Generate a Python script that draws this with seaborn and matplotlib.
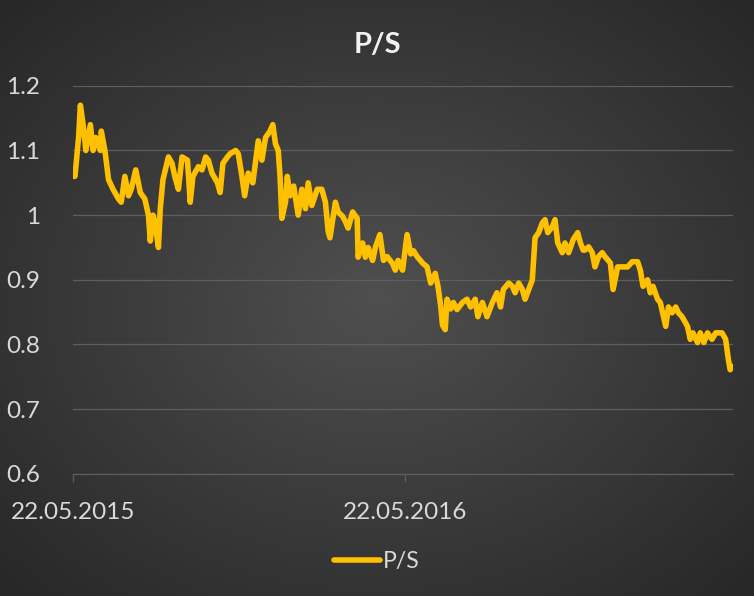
import numpy as np
import pandas as pd
import matplotlib
matplotlib.use("Agg")
import matplotlib.pyplot as plt
import matplotlib.dates as mdates
import seaborn as sns

# P/S series: days after 22.05.2015 and the ratio value
start_date = "2015-05-22"
day_offsets = [
    0, 2, 6, 8, 11, 14, 19, 22, 25, 30, 31, 35, 39, 44, 50, 53, 57, 61, 64, 69,
    74, 79, 83, 85, 88, 90, 94, 96, 99, 105, 109, 112, 116, 120, 126, 129, 132,
    138, 142, 146, 149, 153, 159, 162, 165, 170, 173, 179, 182, 186, 189, 193,
    198, 204, 208, 212, 217, 220, 223, 226, 228, 230, 234, 236, 239, 243, 248,
    252, 256, 259, 263, 269, 274, 278, 281, 283, 289, 292, 297, 300, 303, 308,
    313, 314, 319, 322, 325, 330, 333, 338, 342, 346, 352, 355, 358, 363, 368,
    372, 375, 379, 385, 390, 394, 399, 402, 405, 407, 410, 412, 416, 419, 423,
    429, 434, 438, 443, 446, 451, 456, 462, 467, 471, 474, 480, 484, 487, 491,
    495, 498, 502, 506, 509, 513, 517, 520, 523, 528, 531, 534, 539, 542, 546,
    551, 556, 559, 562, 564, 568, 572, 575, 579, 583, 586, 592, 595, 600, 605,
    611, 616, 622, 625, 628, 633, 636, 639, 644, 647, 653, 656, 660, 664, 667,
    671, 677, 680, 683, 688, 691, 695, 699, 704, 708, 711, 715, 719, 722, 724,
    726,
]
ps_values = [
    1.06, 1.06, 1.12, 1.17, 1.14, 1.10, 1.14, 1.10, 1.12, 1.10, 1.13, 1.10,
    1.055, 1.04, 1.025, 1.02, 1.06, 1.03, 1.04, 1.07, 1.035, 1.025, 1.00, 0.96,
    1.00, 0.99, 0.95, 1.01, 1.055, 1.09, 1.08, 1.06, 1.04, 1.09, 1.085, 1.02,
    1.06, 1.075, 1.07, 1.09, 1.085, 1.065, 1.05, 1.035, 1.08, 1.09, 1.095, 1.10,
    1.095, 1.06, 1.03, 1.065, 1.05, 1.115, 1.085, 1.12, 1.13, 1.14, 1.11, 1.10,
    1.06, 0.995, 1.02, 1.06, 1.03, 1.045, 1.00, 1.04, 1.01, 1.05, 1.015, 1.04,
    1.04, 1.02, 0.975, 0.965, 1.02, 1.005, 0.998, 0.99, 0.98, 1.005, 0.995,
    0.935, 0.957, 0.935, 0.95, 0.93, 0.95, 0.97, 0.93, 0.936, 0.925, 0.915,
    0.93, 0.915, 0.97, 0.94, 0.945, 0.936, 0.926, 0.92, 0.895, 0.91, 0.89,
    0.86, 0.83, 0.823, 0.87, 0.855, 0.865, 0.854, 0.865, 0.87, 0.858, 0.87,
    0.843, 0.865, 0.843, 0.865, 0.88, 0.858, 0.885, 0.895, 0.89, 0.88, 0.895,
    0.885, 0.87, 0.885, 0.90, 0.965, 0.973, 0.988, 0.993, 0.973, 0.982, 0.993,
    0.957, 0.942, 0.957, 0.942, 0.962, 0.973, 0.957, 0.946, 0.946, 0.951,
    0.942, 0.92, 0.936, 0.942, 0.936, 0.926, 0.885, 0.92, 0.92, 0.92, 0.928,
    0.928, 0.915, 0.89, 0.90, 0.88, 0.89, 0.87, 0.865, 0.828, 0.858, 0.849,
    0.858, 0.849, 0.843, 0.828, 0.808, 0.818, 0.803, 0.818, 0.803, 0.818,
    0.808, 0.818, 0.818, 0.818, 0.808, 0.777, 0.761, 0.766,
]
tick_dates = ["2015-05-22", "2016-05-22"]
y_ticks = [0.6, 0.7, 0.8, 0.9, 1.0, 1.1, 1.2]
y_tick_labels = ["0.6", "0.7", "0.8", "0.9", "1", "1.1", "1.2"]

df = pd.DataFrame({
    "Date": pd.Timestamp(start_date) + pd.to_timedelta(day_offsets, unit="D"),
    "P/S": ps_values,
})

sns.set_style("dark")
plt.rcParams["font.family"] = ["Lato", "DejaVu Sans"]

text_color = "#d9d9d9"
grid_color = "#5e5e5e"
line_color = "#ffc000"

fig = plt.figure(figsize=(7.54, 5.96), dpi=100)

# dark radial gradient background
bg = fig.add_axes([0, 0, 1, 1], zorder=-10)
gx, gy = np.meshgrid(np.linspace(-1, 1, 400), np.linspace(-1, 1, 320))
r = np.clip(np.sqrt(gx ** 2 + gy ** 2) / 1.35, 0, 1)
shade = 0.31 - 0.15 * r
bg.imshow(np.dstack([shade, shade, shade]), aspect="auto", extent=[0, 1, 0, 1])
bg.axis("off")

ax = fig.add_axes([0.097, 0.205, 0.875, 0.651])
ax.patch.set_alpha(0)

sns.lineplot(data=df, x="Date", y="P/S", ax=ax, color=line_color,
             linewidth=4.0, label="P/S")

ax.set_ylim(0.6, 1.2)
ax.set_xlim(pd.Timestamp(start_date), df["Date"].iloc[-1] + pd.Timedelta(days=1))
ax.set_yticks(y_ticks)
ax.set_yticklabels(y_tick_labels)
ax.set_xticks(pd.to_datetime(tick_dates))
ax.xaxis.set_major_formatter(mdates.DateFormatter("%d.%m.%Y"))

ax.grid(axis="y", color=grid_color, linewidth=0.9)
ax.grid(axis="x", visible=False)
ax.set_axisbelow(True)
for side in ["top", "right", "left"]:
    ax.spines[side].set_visible(False)
ax.spines["bottom"].set_color(grid_color)
ax.spines["bottom"].set_linewidth(0.9)

ax.tick_params(axis="y", length=0, pad=24, labelsize=17.5, labelcolor=text_color)
ax.tick_params(axis="x", length=6, width=0.9, color=grid_color, pad=14,
               labelsize=17.5, labelcolor=text_color, bottom=True)
ax.set_xlabel("")
ax.set_ylabel("")

fig.text(0.5, 0.925, "P/S", ha="center", va="center", color="#f2f2f2",
         fontsize=21, fontweight="bold")

leg = ax.legend(loc="center", bbox_to_anchor=(0.5, 0.058),
                bbox_transform=fig.transFigure, frameon=False,
                handlelength=2.0, handletextpad=0.15, fontsize=16.5)
for t in leg.get_texts():
    t.set_color(text_color)

fig.savefig("out.png", dpi=100)
